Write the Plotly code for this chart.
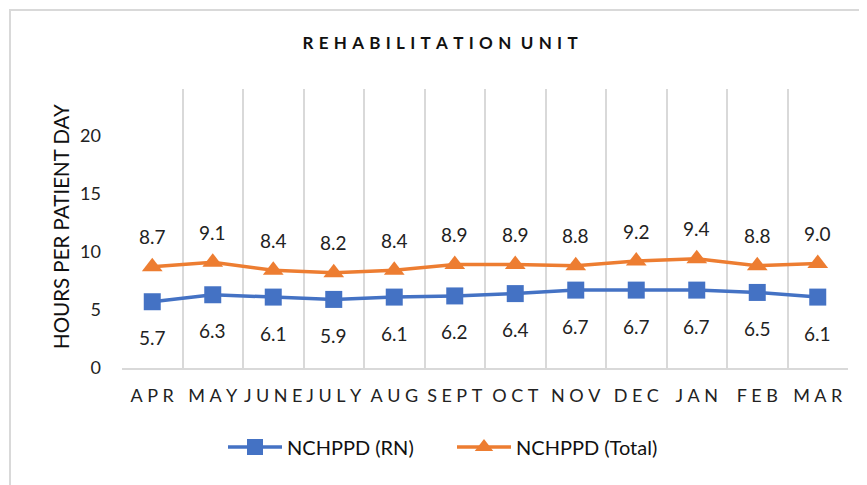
import plotly.graph_objects as go

months = ["APR", "MAY", "JUNE", "JULY", "AUG", "SEPT", "OCT", "NOV", "DEC", "JAN", "FEB", "MAR"]
rn = [5.7, 6.3, 6.1, 5.9, 6.1, 6.2, 6.4, 6.7, 6.7, 6.7, 6.5, 6.1]
total = [8.7, 9.1, 8.4, 8.2, 8.4, 8.9, 8.9, 8.8, 9.2, 9.4, 8.8, 9.0]
y_ticks = [0, 5, 10, 15, 20]

BLUE = "#4472C4"
ORANGE = "#ED7D31"
FONT = "Lato, Carlito, sans-serif"
TH = "\u2009"
HAIR = "\u200a"

def spaced(s, sep):
    return sep.join(list(s))

# page body has an 8px margin; figure is sized/positioned to compensate
W, H = 859, 477
L, R, T, B = 114, 19, 81, 117
PW, PH = W - L - R, H - T - B

fig = go.Figure()
fig.add_trace(go.Scatter(
    x=months, y=rn, mode="lines+markers", name="NCHPPD (RN)",
    line=dict(color=BLUE, width=3.5),
    marker=dict(symbol="square", size=17, color=BLUE),
))
fig.add_trace(go.Scatter(
    x=months, y=total, mode="lines+markers", name="NCHPPD (Total)",
    line=dict(color=ORANGE, width=3.5),
    marker=dict(symbol="triangle-up", size=18, color=ORANGE),
))

for m, v in zip(months, total):
    fig.add_annotation(x=m, y=v, text=f"{v:.1f}", showarrow=False, yshift=30,
                       font=dict(family=FONT, size=19, color="#222"))
for m, v in zip(months, rn):
    fig.add_annotation(x=m, y=v, text=f"{v:.1f}", showarrow=False, yshift=-36,
                       font=dict(family=FONT, size=19, color="#222"))

# y-axis title
fig.add_annotation(xref="paper", yref="paper", x=(61 - 8 - L) / PW, y=(360 - 227 + 8) / PH - 0.0,
                   text="HOURS PER PATIENT DAY", textangle=-90, showarrow=False,
                   xanchor="center", yanchor="middle",
                   font=dict(family=FONT, size=20.5, color="#111"))

# chart border (left and top visible)
fig.add_shape(type="rect", xref="paper", yref="paper",
              x0=(2 - L) / PW, x1=1.3, y0=-0.7, y1=1 + (T - 2) / PH,
              line=dict(color="#D9D9D9", width=2), layer="below")

title_sep = TH + TH + HAIR
title_txt = spaced("REHABILITATION", title_sep) + title_sep + " " + spaced("UNIT", title_sep)
tick_sep = TH + TH

fig.update_layout(
    width=W, height=H,
    margin=dict(l=L, r=R, t=T, b=B),
    paper_bgcolor="white", plot_bgcolor="white",
    title=dict(text=f"<b>{title_txt}</b>",
               x=(440 - 8 - L) / PW, xanchor="center", xref="paper",
               y=1 - 35 / H, yanchor="middle",
               font=dict(family=FONT, size=17, color="#111")),
    font=dict(family=FONT, size=18, color="#222"),
    showlegend=True,
    legend=dict(orientation="h", x=(452 - 8 - L) / PW, xanchor="center",
                y=(360 - 439) / PH, yanchor="middle",
                font=dict(family=FONT, size=20, color="#111"),
                itemwidth=54, entrywidthmode="pixels", entrywidth=160),
    xaxis=dict(
        type="category", tickson="boundaries",
        tickmode="array", tickvals=months, ticktext=[spaced(m, tick_sep) for m in months],
        showgrid=True, gridcolor="#D9D9D9", gridwidth=1.5,
        showline=True, linecolor="#D9D9D9", linewidth=1.5,
        ticks="", tickangle=0, ticklabelstandoff=11,
        tickfont=dict(family=FONT, size=18, color="#222"),
        range=[-0.5, 11.5], fixedrange=True,
    ),
    yaxis=dict(
        range=[0, 24], tickvals=y_ticks, showgrid=False, zeroline=False,
        showline=False, ticks="", ticklabelstandoff=20,
        tickfont=dict(family=FONT, size=18, color="#222"),
    ),
)

fig.write_html("out.html")
